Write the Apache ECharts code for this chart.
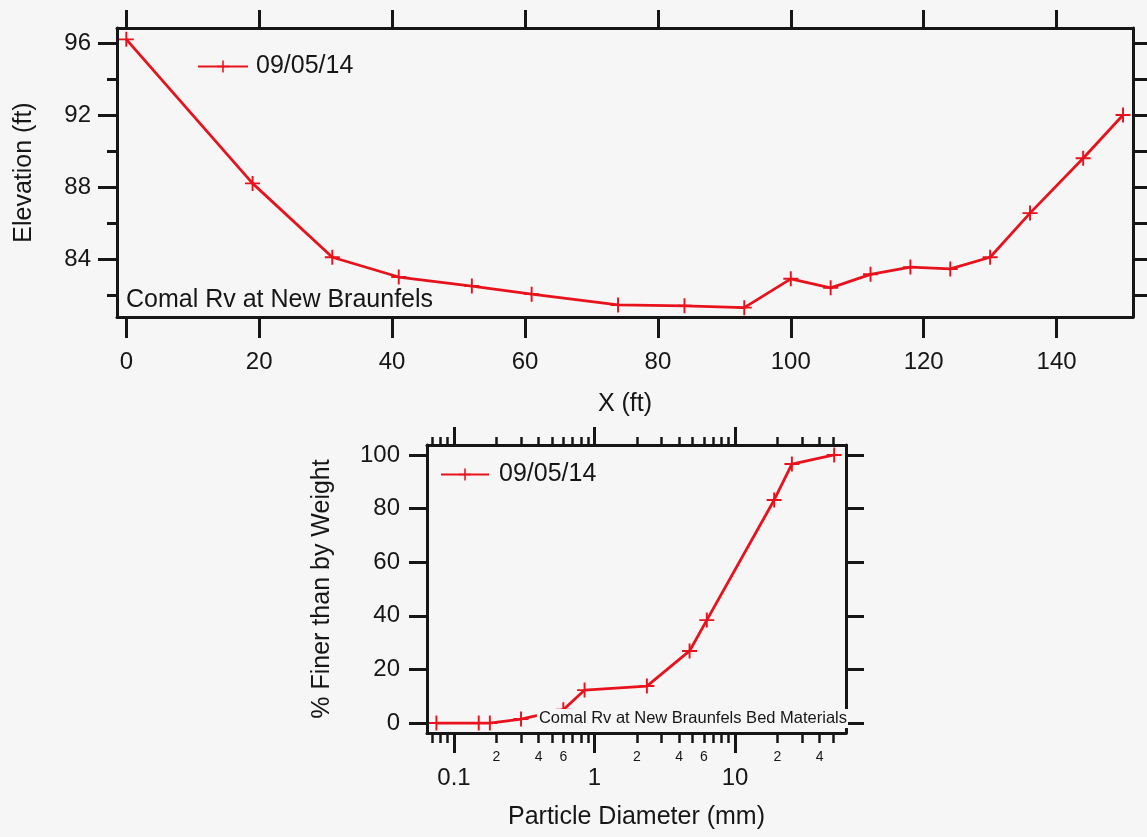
<!DOCTYPE html>
<html>
<head>
<meta charset="utf-8">
<script src="https://cdn.jsdelivr.net/npm/echarts@6/dist/echarts.min.js"></script>
<style>
html,body{margin:0;padding:0;background:#f6f6f6;}
#c{width:1147px;height:837px;}
</style>
</head>
<body>
<div id="c"></div>
<script>
// ---- Cross section data ----
const seriesName = '09/05/14';
const stationX = [0, 19, 31, 41, 52, 61, 74, 84, 93, 100, 106, 112, 118, 124, 130, 136, 144, 150];
const elevation = [96.2, 88.2, 84.1, 83.0, 82.5, 82.05, 81.45, 81.4, 81.3, 82.9, 82.4, 83.15, 83.55, 83.45, 84.1, 86.55, 89.6, 92.0];
const xTicks = [0, 20, 40, 60, 80, 100, 120, 140];
const yMajorTicks = [84, 88, 92, 96];
const yMinorTicks = [82, 86, 90, 94];
const yRightTicks = [82, 84, 86, 88, 90, 92, 94, 96];

// ---- Bed material gradation data ----
const diameterMM = [0.075, 0.15, 0.18, 0.3, 0.6, 0.85, 2.36, 4.75, 6.3, 19, 25.4, 50.8];
const percentFiner = [0, 0, 0, 1.5, 5, 12.3, 13.8, 26.9, 38.4, 83.2, 96.6, 100];
const dMajorTicks = [0.1, 1, 10];
const dMinorTicks = [0.07, 0.08, 0.09, 0.2, 0.3, 0.4, 0.5, 0.6, 0.7, 0.8, 0.9, 2, 3, 4, 5, 6, 7, 8, 9, 20, 30, 40, 50];
const dMinorLabels = [0.2, 0.4, 0.6, 2, 4, 6, 20, 40];
const pctTicks = [0, 20, 40, 60, 80, 100];

const FONT = "'Liberation Sans', Arial, Helvetica, sans-serif";
const INK = '#161616';
const RED = '#e8121c';
const BG = '#f6f6f6';
const PLUS = 'path://M0,6.1H14V7.9H0Z M6.1,0H7.9V14H6.1Z';
const lg = v => Math.log10(v);

function fmtMajor(v) {
  const p = Math.round(v);
  const val = Math.pow(10, p);
  return p < 0 ? val.toFixed(-p) : String(val);
}
function fmtMinor(v) {
  return String(Math.round(Math.pow(10, v) / Math.pow(10, Math.floor(v + 1e-9))));
}

const chart = echarts.init(document.getElementById('c'), null, {renderer: 'canvas'});

const lineAx = {show: true, onZero: false, lineStyle: {color: INK, width: 3}};
const noLine = {show: false, onZero: false};

const option = {
  backgroundColor: BG,
  animation: false,
  textStyle: {fontFamily: FONT},
  grid: [
    {left: 117, top: 28, width: 1016, height: 289, show: false},
    {left: 427, top: 445, width: 419, height: 288, show: false}
  ],
  legend: [
    {
      data: [seriesName], left: 197, top: 54, padding: 0,
      itemWidth: 50, itemHeight: 15, itemGap: 0,
      textStyle: {fontSize: 25, color: INK, fontFamily: FONT, padding: [0, 0, 0, 3]}
    },
    {
      data: [seriesName], left: 440, top: 462, padding: 0,
      itemWidth: 48, itemHeight: 15, itemGap: 0,
      textStyle: {fontSize: 25, color: INK, fontFamily: FONT, padding: [0, 0, 0, 5]}
    }
  ],
  xAxis: [
    { // 0: top chart bottom
      gridIndex: 0, type: 'value', position: 'bottom', min: -1.4, max: 151.5,
      name: 'X (ft)', nameLocation: 'middle', nameGap: 75,
      nameTextStyle: {fontSize: 25, color: INK, fontFamily: FONT},
      axisLine: lineAx, splitLine: {show: false},
      axisTick: {show: true, length: 21, customValues: xTicks, lineStyle: {color: INK, width: 3}},
      axisLabel: {show: true, customValues: xTicks, margin: 33, fontSize: 24, color: INK, fontFamily: FONT}
    },
    { // 1: top chart top
      gridIndex: 0, type: 'value', position: 'top', min: -1.4, max: 151.5,
      axisLine: lineAx, splitLine: {show: false},
      axisTick: {show: true, length: 18, customValues: xTicks, lineStyle: {color: INK, width: 3}},
      axisLabel: {show: false}
    },
    { // 2: bottom chart bottom major
      gridIndex: 1, type: 'value', position: 'bottom', min: -1.192, max: 1.79,
      name: 'Particle Diameter (mm)', nameLocation: 'middle', nameGap: 72,
      nameTextStyle: {fontSize: 25, color: INK, fontFamily: FONT},
      axisLine: lineAx, splitLine: {show: false},
      axisTick: {show: true, length: 20, customValues: dMajorTicks.map(lg), lineStyle: {color: INK, width: 3}},
      axisLabel: {show: true, customValues: dMajorTicks.map(lg), formatter: fmtMajor, margin: 33, fontSize: 24, color: INK, fontFamily: FONT}
    },
    { // 3: bottom chart bottom minor
      gridIndex: 1, type: 'value', position: 'bottom', min: -1.192, max: 1.79,
      axisLine: noLine, splitLine: {show: false},
      axisTick: {show: true, length: 10, customValues: dMinorTicks.map(lg), lineStyle: {color: INK, width: 2.5}},
      axisLabel: {show: true, customValues: dMinorLabels.map(lg), formatter: fmtMinor, margin: 17, fontSize: 14, color: INK, fontFamily: FONT}
    },
    { // 4: bottom chart top major
      gridIndex: 1, type: 'value', position: 'top', min: -1.192, max: 1.79,
      axisLine: lineAx, splitLine: {show: false},
      axisTick: {show: true, length: 18, customValues: dMajorTicks.map(lg), lineStyle: {color: INK, width: 3}},
      axisLabel: {show: false}
    },
    { // 5: bottom chart top minor
      gridIndex: 1, type: 'value', position: 'top', min: -1.192, max: 1.79,
      axisLine: noLine, splitLine: {show: false},
      axisTick: {show: true, length: 8, customValues: dMinorTicks.map(lg), lineStyle: {color: INK, width: 2.5}},
      axisLabel: {show: false}
    }
  ],
  yAxis: [
    { // 0: top chart left major
      gridIndex: 0, type: 'value', position: 'left', min: 80.78, max: 96.83,
      name: 'Elevation (ft)', nameLocation: 'middle', nameGap: 80,
      nameTextStyle: {fontSize: 25, color: INK, fontFamily: FONT},
      axisLine: lineAx, splitLine: {show: false},
      axisTick: {show: true, length: 19, customValues: yMajorTicks, lineStyle: {color: INK, width: 3}},
      axisLabel: {show: true, customValues: yMajorTicks, margin: 26, fontSize: 24, color: INK, fontFamily: FONT}
    },
    { // 1: top chart left minor
      gridIndex: 0, type: 'value', position: 'left', min: 80.78, max: 96.83,
      axisLine: noLine, splitLine: {show: false},
      axisTick: {show: true, length: 10, customValues: yMinorTicks, lineStyle: {color: INK, width: 3}},
      axisLabel: {show: false}
    },
    { // 2: top chart right
      gridIndex: 0, type: 'value', position: 'right', min: 80.78, max: 96.83,
      axisLine: lineAx, splitLine: {show: false},
      axisTick: {show: true, length: 14, customValues: yRightTicks, lineStyle: {color: INK, width: 3}},
      axisLabel: {show: false}
    },
    { // 3: bottom chart left
      gridIndex: 1, type: 'value', position: 'left', min: -3.7, max: 103.7,
      name: '% Finer than by Weight', nameLocation: 'middle', nameGap: 92,
      nameTextStyle: {fontSize: 25, color: INK, fontFamily: FONT},
      axisLine: lineAx, splitLine: {show: false},
      axisTick: {show: true, length: 18, customValues: pctTicks, lineStyle: {color: INK, width: 3}},
      axisLabel: {show: true, customValues: pctTicks, margin: 27, fontSize: 24, color: INK, fontFamily: FONT}
    },
    { // 4: bottom chart right
      gridIndex: 1, type: 'value', position: 'right', min: -3.7, max: 103.7,
      axisLine: lineAx, splitLine: {show: false},
      axisTick: {show: true, length: 18, customValues: pctTicks, lineStyle: {color: INK, width: 3}},
      axisLabel: {show: false}
    }
  ],
  series: [
    {
      name: seriesName, type: 'line', xAxisIndex: 0, yAxisIndex: 0,
      data: stationX.map((x, i) => [x, elevation[i]]),
      symbol: PLUS, symbolSize: 15, showAllSymbol: true,
      lineStyle: {color: RED, width: 2.8},
      itemStyle: {color: RED},
      z: 3
    },
    {
      name: seriesName, type: 'line', xAxisIndex: 2, yAxisIndex: 3,
      data: diameterMM.map((d, i) => [lg(d), percentFiner[i]]),
      symbol: PLUS, symbolSize: 15, showAllSymbol: true,
      lineStyle: {color: RED, width: 2.8},
      itemStyle: {color: RED},
      z: 3
    }
  ],
  graphic: [
    {
      type: 'text', left: 126, top: 288, z: 100,
      style: {text: 'Comal Rv at New Braunfels', font: '25px ' + FONT, fill: INK}
    },
    {
      type: 'text', right: 1147 - 848, top: 709, z: 100,
      style: {text: 'Comal Rv at New Braunfels Bed Materials', font: '16.5px ' + FONT, fill: INK,
              backgroundColor: BG, padding: [1, 1, 1, 2]}
    }
  ]
};
chart.setOption(option);
</script>
</body>
</html>
